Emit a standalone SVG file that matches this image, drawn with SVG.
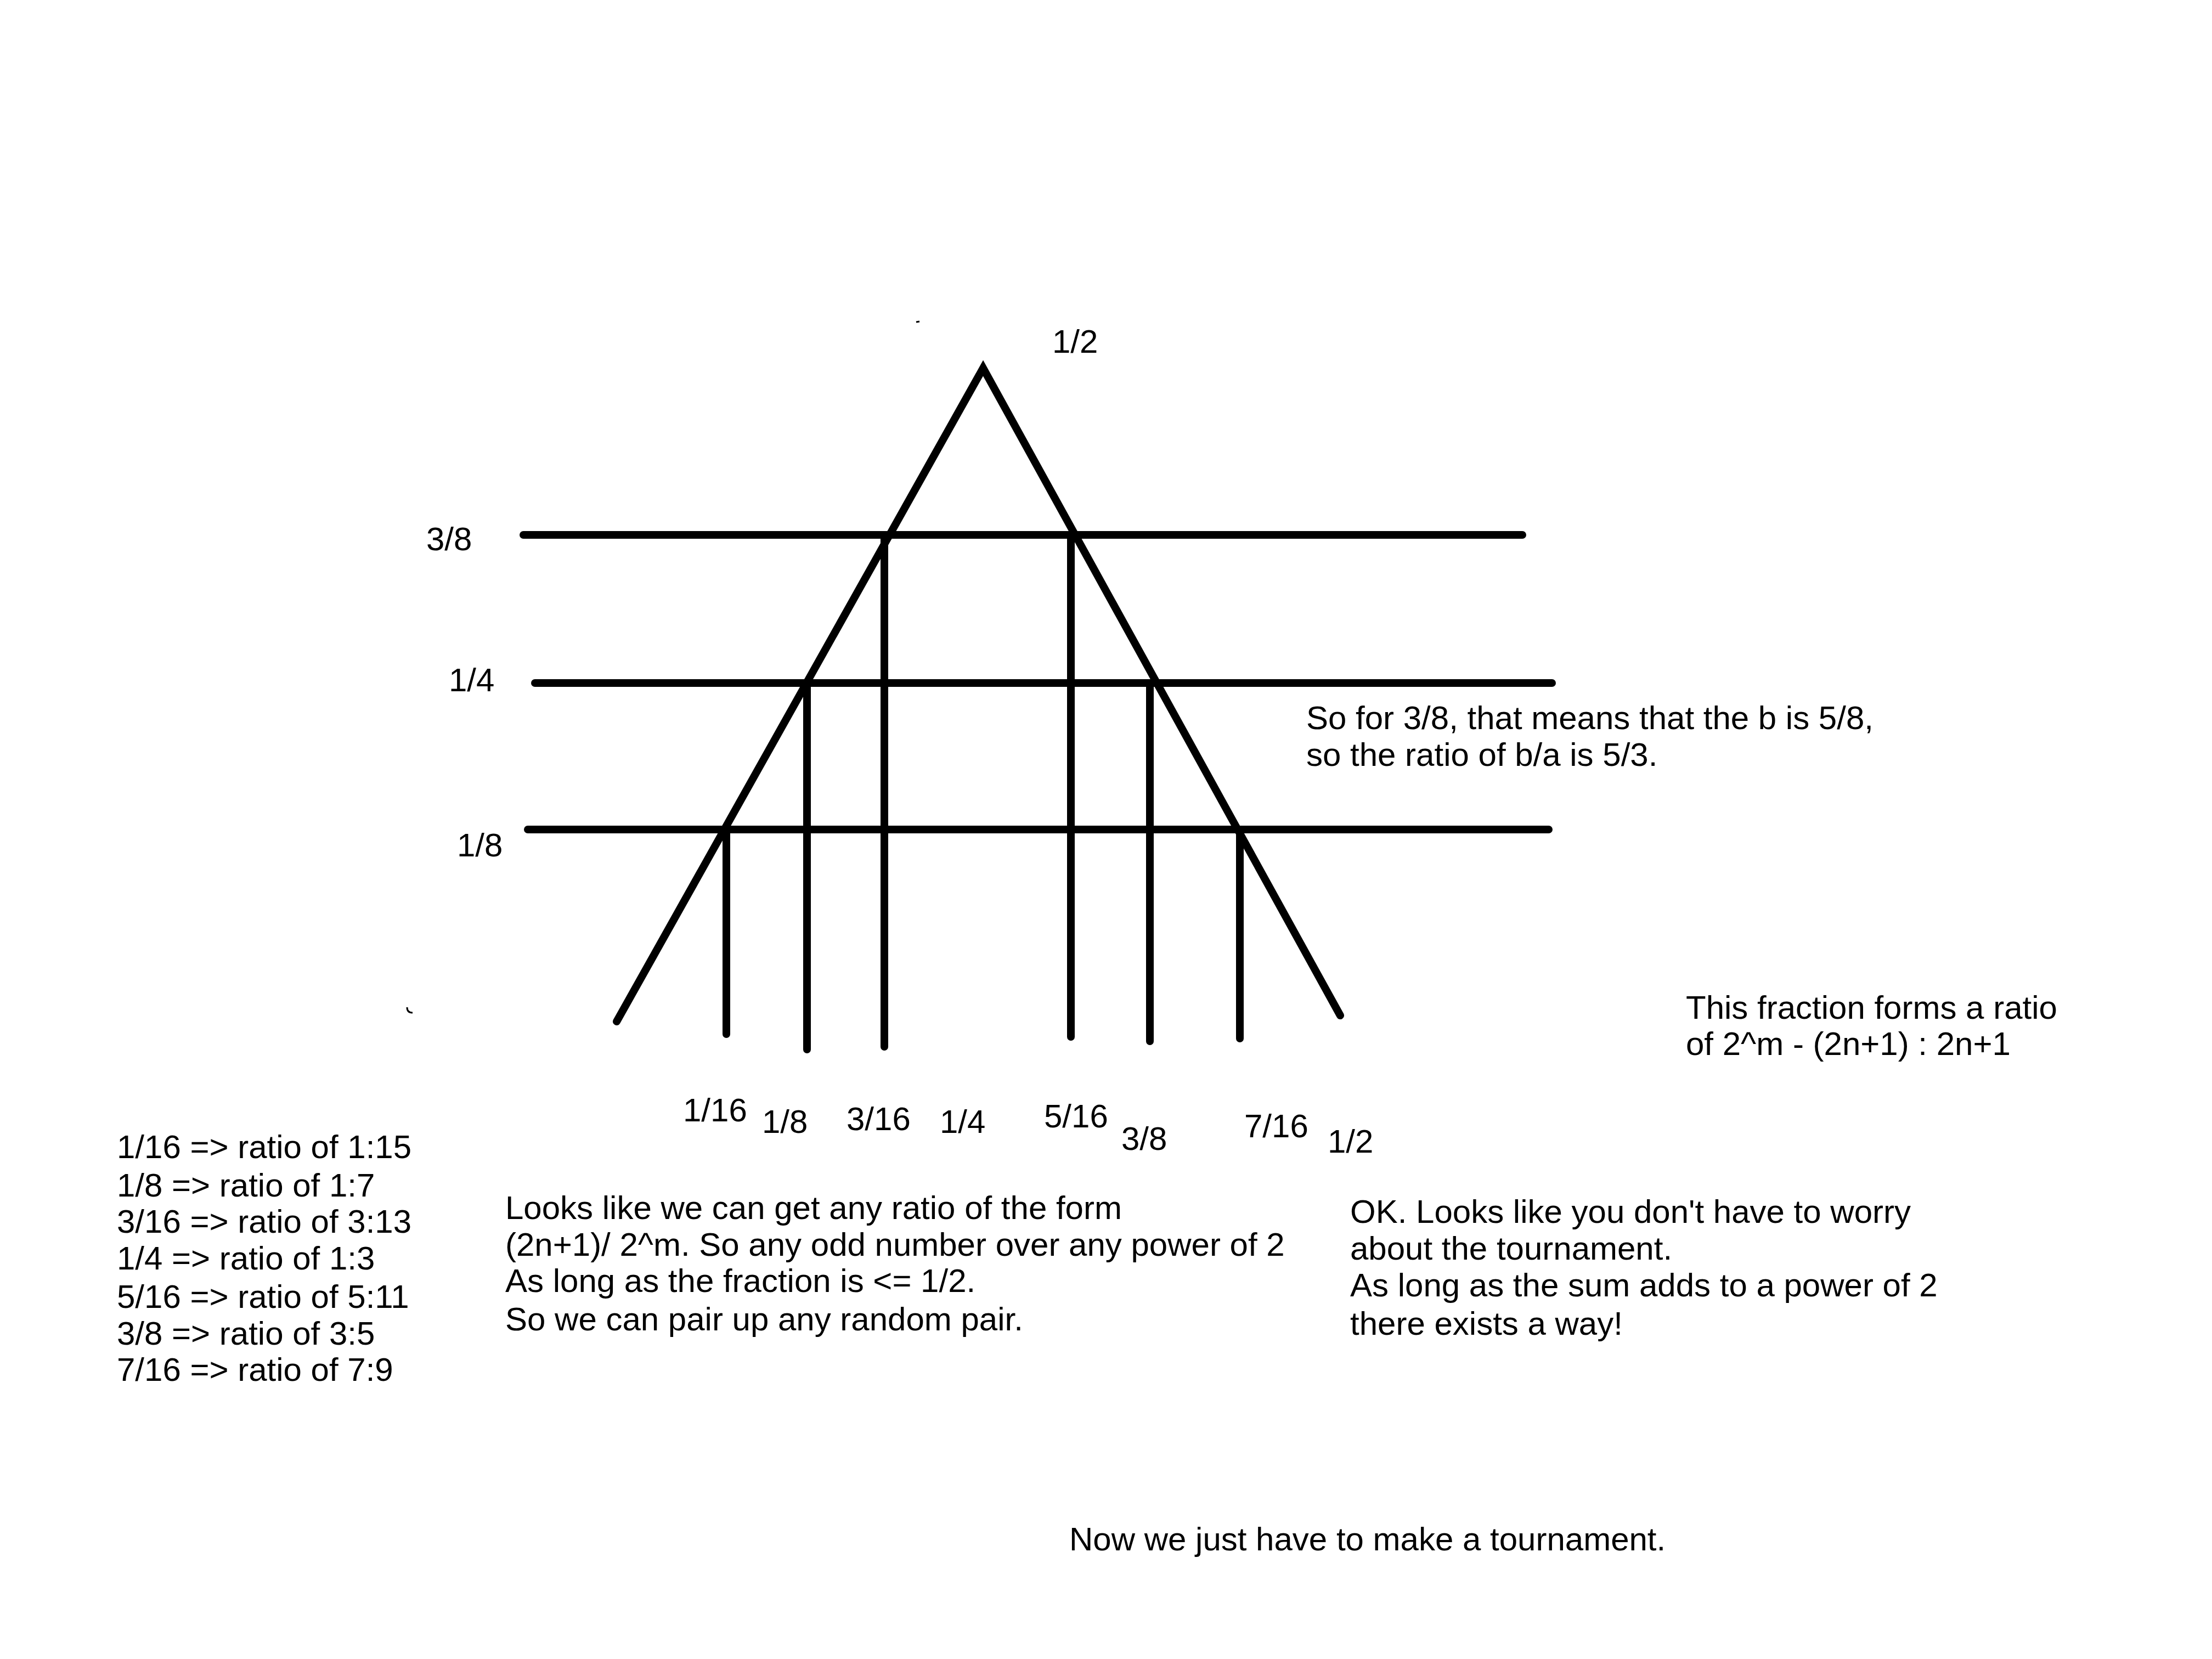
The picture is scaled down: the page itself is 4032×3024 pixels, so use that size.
<svg xmlns="http://www.w3.org/2000/svg" width="4032" height="3024" viewBox="0 0 4032 3024">
<style>
.ln{stroke:#000;stroke-width:14;stroke-linecap:round;fill:none}
.t{font-family:"Liberation Sans",Arial,sans-serif;font-size:60px;fill:#000}
.thin{stroke:#000;stroke-width:3;fill:none}
</style>
<rect width="4032" height="3024" fill="#fff"/>
<g id="connectors">
<polyline class="ln" points="1124,1862 1792,671 2443,1851"/>
<line class="ln" x1="954" y1="975" x2="2775" y2="975"/>
<line class="ln" x1="975" y1="1245" x2="2829" y2="1245"/>
<line class="ln" x1="962" y1="1512" x2="2823" y2="1512"/>
<line class="ln" x1="1324" y1="1512" x2="1324" y2="1885"/>
<line class="ln" x1="1471" y1="1245" x2="1471" y2="1913"/>
<line class="ln" x1="1612" y1="975" x2="1612" y2="1908"/>
<line class="ln" x1="1952" y1="975" x2="1952" y2="1890"/>
<line class="ln" x1="2096" y1="1245" x2="2096" y2="1898"/>
<line class="ln" x1="2260" y1="1512" x2="2260" y2="1893"/>
</g>
<g id="marks">
<path class="thin" d="M1670,587 L1676,586"/>
<path class="thin" d="M742,1836 Q742,1846 752,1846"/>
</g>
<g id="axis-labels">
<text class="t" x="1918" y="643">1/2</text>
<text class="t" x="777" y="1003">3/8</text>
<text class="t" x="818" y="1260">1/4</text>
<text class="t" x="833" y="1561">1/8</text>
</g>
<g id="bottom-labels">
<text class="t" x="1245" y="2044">1/16</text>
<text class="t" x="1389" y="2065">1/8</text>
<text class="t" x="1543" y="2060">3/16</text>
<text class="t" x="1713" y="2065">1/4</text>
<text class="t" x="1903" y="2055">5/16</text>
<text class="t" x="2044" y="2096">3/8</text>
<text class="t" x="2268" y="2073">7/16</text>
<text class="t" x="2420" y="2101">1/2</text>
</g>
<g id="note-3-8">
<text class="t" x="2381" y="1329">So for 3/8, that means that the b is 5/8,</text>
<text class="t" x="2381" y="1396">so the ratio of b/a is 5/3.</text>
</g>
<g id="note-ratio">
<text class="t" x="3073" y="1857">This fraction forms a ratio</text>
<text class="t" x="3073" y="1923">of 2^m - (2n+1) : 2n+1</text>
</g>
<g id="ratio-list">
<text class="t" x="213" y="2111">1/16 =&gt; ratio of 1:15</text>
<text class="t" x="213" y="2181">1/8 =&gt; ratio of 1:7</text>
<text class="t" x="213" y="2247">3/16 =&gt; ratio of 3:13</text>
<text class="t" x="213" y="2314">1/4 =&gt; ratio of 1:3</text>
<text class="t" x="213" y="2384">5/16 =&gt; ratio of 5:11</text>
<text class="t" x="213" y="2451">3/8 =&gt; ratio of 3:5</text>
<text class="t" x="213" y="2517">7/16 =&gt; ratio of 7:9</text>
</g>
<g id="note-form">
<text class="t" x="921" y="2222">Looks like we can get any ratio of the form</text>
<text class="t" x="921" y="2289">(2n+1)/ 2^m. So any odd number over any power of 2</text>
<text class="t" x="921" y="2355">As long as the fraction is &lt;= 1/2.</text>
<text class="t" x="921" y="2425">So we can pair up any random pair.</text>
</g>
<g id="note-ok">
<text class="t" x="2461" y="2229">OK. Looks like you don't have to worry</text>
<text class="t" x="2461" y="2296">about the tournament.</text>
<text class="t" x="2461" y="2363">As long as the sum adds to a power of 2</text>
<text class="t" x="2461" y="2433">there exists a way!</text>
</g>
<g id="note-tournament">
<text class="t" x="1949" y="2826">Now we just have to make a tournament.</text>
</g>
</svg>
